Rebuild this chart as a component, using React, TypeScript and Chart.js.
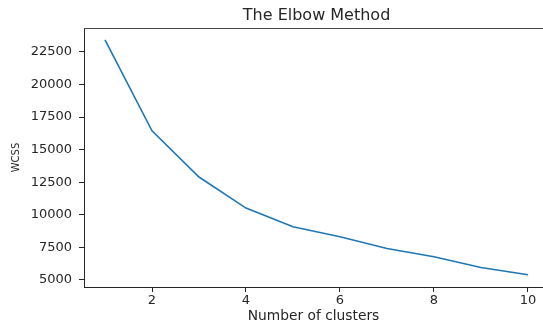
import React, { useEffect, useRef } from "react";
import { Chart, registerables } from "chart.js";

Chart.register(...registerables);

const clusters = [1, 2, 3, 4, 5, 6, 7, 8, 9, 10];
const wcss = [23420, 16450, 12900, 10520, 9080, 8320, 7420, 6780, 5960, 5400];
const xTicks = [2, 4, 6, 8, 10];
const yTicks = [5000, 7500, 10000, 12500, 15000, 17500, 20000, 22500];
const chartTitle = "The Elbow Method";

const FONT = "'DejaVu Sans', sans-serif";
const INK = "#262626";

const decorations = {
  id: "decorations",
  afterDatasetsDraw(chart: any) {
    const { ctx, chartArea } = chart;
    ctx.save();
    ctx.strokeStyle = "#444";
    ctx.lineWidth = 1;
    ctx.beginPath();
    ctx.moveTo(chartArea.left, Math.round(chartArea.top) + 0.5);
    ctx.lineTo(chart.width, Math.round(chartArea.top) + 0.5);
    ctx.stroke();
    // title centred over the full axes (which extend slightly past the canvas)
    const xs = chart.scales.x;
    const cx = (xs.getPixelForValue(0.553) + xs.getPixelForValue(10.45)) / 2;
    ctx.fillStyle = INK;
    ctx.font = `16px ${FONT}`;
    ctx.textAlign = "center";
    ctx.textBaseline = "middle";
    ctx.fillText(chartTitle, cx, 16);
    ctx.restore();
  },
};

export default function App() {
  const ref = useRef<HTMLCanvasElement>(null);
  useEffect(() => {
    document.body.style.margin = "0";
    const chart = new Chart(ref.current!, {
      type: "line",
      data: {
        datasets: [
          {
            data: clusters.map((c, i) => ({ x: c, y: wcss[i] })),
            borderColor: "#1f77b4",
            borderWidth: 1.6,
            pointRadius: 0,
            tension: 0,
            fill: false,
          },
        ],
      },
      options: {
        animation: false,
        responsive: false,
        layout: { padding: { left: 0, right: 0, top: 28, bottom: 0 } },
        plugins: {
          legend: { display: false },
          tooltip: { enabled: false },
          title: { display: false },
        },
        scales: {
          x: {
            type: "linear",
            min: 0.553,
            max: 10.32,
            afterBuildTicks: (s: any) => {
              s.ticks = xTicks.map((v) => ({ value: v }));
            },
            afterFit: (s: any) => {
              s.height = 38;
            },
            grid: { drawOnChartArea: false, drawTicks: true, tickLength: 5, color: INK },
            border: { display: true, color: INK, width: 1 },
            ticks: {
              color: INK,
              font: { family: FONT, size: 13 },
              padding: 1,
              maxRotation: 0,
              autoSkip: false,
            },
            title: {
              display: true,
              text: "Number of clusters",
              color: INK,
              font: { family: FONT, size: 13.8 },
              padding: { top: 0, bottom: 0 },
            },
          },
          y: {
            type: "linear",
            min: 4460,
            max: 24340,
            afterBuildTicks: (s: any) => {
              s.ticks = yTicks.map((v) => ({ value: v }));
            },
            afterFit: (s: any) => {
              s.width = 84;
            },
            grid: { drawOnChartArea: false, drawTicks: true, tickLength: 5, color: INK },
            border: { display: true, color: INK, width: 1 },
            ticks: {
              color: INK,
              font: { family: FONT, size: 13 },
              padding: 7,
              autoSkip: false,
              callback: (v: any) => String(v),
            },
            title: {
              display: true,
              text: "WCSS",
              color: INK,
              font: { family: FONT, size: 10 },
              padding: { top: 10, bottom: 0 },
            },
          },
        },
      },
      plugins: [decorations],
    });
    return () => chart.destroy();
  }, []);
  return (
    <div style={{ width: 543, height: 325 }}>
      <canvas ref={ref} width={543} height={325} />
    </div>
  );
}
